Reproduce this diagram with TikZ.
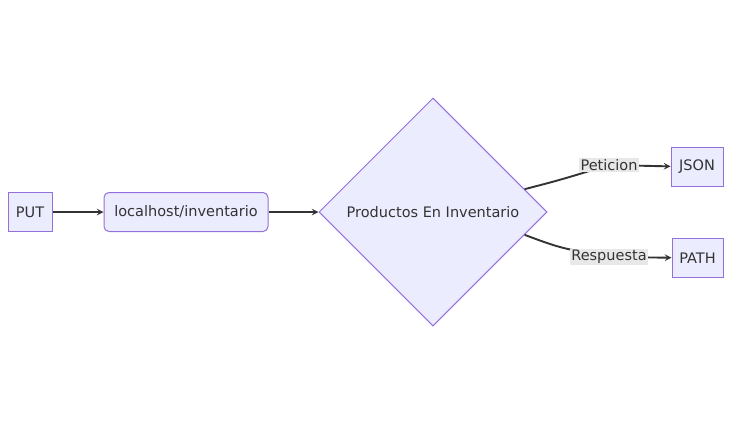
\documentclass[tikz,border=0pt]{standalone}
\usepackage{fontspec}
\setmainfont{DejaVu Sans}
\usetikzlibrary{shapes.geometric}
\definecolor{nodefill}{HTML}{ECECFF}
\definecolor{nodeline}{HTML}{9370DB}
\definecolor{edgeline}{HTML}{333333}
\definecolor{lblfill}{HTML}{E8E8E8}

\begin{document}
\begin{tikzpicture}[>=stealth, x=1pt, y=-1pt,
	box/.style={draw=nodeline, fill=nodefill, line width=1pt, text=edgeline, minimum height=39pt, inner xsep=2pt, font=\fontsize{14.5}{17}\selectfont},
	choice/.style={diamond, draw=nodeline, fill=nodefill, line width=1pt, text=edgeline, minimum width=228pt, minimum height=228pt, inner sep=0pt, font=\fontsize{14.5}{17}\selectfont},
	lbl/.style={fill=lblfill, text=edgeline, inner sep=1.5pt, font=\fontsize{14.5}{17}\selectfont},
	edge/.style={->, draw=edgeline, line width=1.9pt}]

				\useasboundingbox (0,0) rectangle (732,426);

				\node[box, minimum width=44pt] (put) at (30,212) {PUT};
				\node[box, minimum width=164pt, rounded corners=5pt] (url) at (186,212) {localhost/inventario};
				\node[choice] (prod) at (433,212) {Productos En Inventario};

				% RESULTS

				\node[box, minimum width=52pt] (json) at (697,167) {JSON};
				\node[box, minimum width=51pt] (path) at (697.5,258) {PATH};

				\coordinate (petc) at (609,165);
				\coordinate (resc) at (609,257);

				\draw[edge] (put) to (url);
				\draw[edge] (url) to (prod);
				\draw[edge] (prod.14) .. controls (560,180) .. (petc) -- (json);
				\draw[edge] (prod.-14) .. controls (560,248) .. (resc) -- (path);

				\node[lbl] (pet) at (petc) {Peticion};
				\node[lbl] (res) at (resc) {Respuesta};
			\end{tikzpicture}
\end{document}
